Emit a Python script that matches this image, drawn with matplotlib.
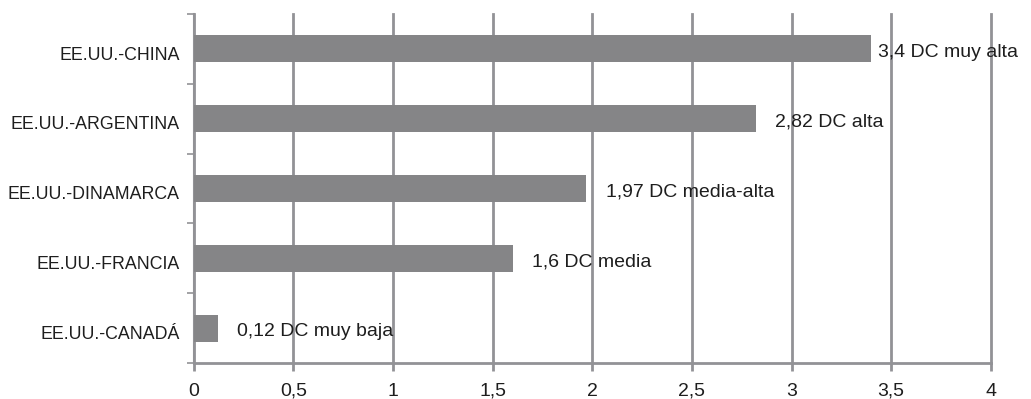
import matplotlib.pyplot as plt
import matplotlib.transforms as mtransforms
import numpy as np

# Datos
paises = ["EE.UU.-CHINA", "EE.UU.-ARGENTINA", "EE.UU.-DINAMARCA",
          "EE.UU.-FRANCIA", "EE.UU.-CANADÁ"]
valores = [3.4, 2.82, 1.97, 1.6, 0.12]
etiquetas = ["3,4 DC muy alta", "2,82 DC alta", "1,97 DC media-alta",
             "1,6 DC media", "0,12 DC muy baja"]
x_ticks = [0, 0.5, 1, 1.5, 2, 2.5, 3, 3.5, 4]
x_labels = ["0", "0,5", "1", "1,5", "2", "2,5", "3", "3,5", "4"]

plt.rcParams["font.family"] = ["Liberation Sans", "DejaVu Sans"]

GRIS_BARRA = "#858587"
GRIS_LINEA = "#929296"
TEXTO = "#1e1e1e"

fig = plt.figure(figsize=(10.31, 3.99), dpi=100)
ax = fig.add_axes([0.188, 0.090, 0.773, 0.875])

y = np.arange(len(paises))
ax.barh(y, valores, height=0.39, color=GRIS_BARRA, zorder=3)

# Etiquetas de valor
for yi, val, txt in zip(y, valores, etiquetas):
    pad = 5 if val > 3.3 else 14
    ax.annotate(txt, (val, yi), xytext=(pad, -2.5), textcoords="offset points",
                va="center", ha="left", fontsize=14, color=TEXTO, zorder=4)

ax.set_xlim(0, 4)
ax.set_ylim(len(paises) - 0.5, -0.5)

ax.set_xticks(x_ticks)
ax.set_xticklabels(x_labels, fontsize=14, color=TEXTO)
ax.set_yticks(y)
ax.set_yticklabels(paises, fontsize=12.8, color=TEXTO)
ax.tick_params(axis="y", which="major", length=0, pad=10)
ax.set_yticks(np.arange(-0.5, len(paises)), minor=True)
ax.tick_params(axis="y", which="minor", length=5, width=1.2, color=GRIS_LINEA,
               direction="out")
ax.tick_params(axis="x", length=6, width=2, color=GRIS_LINEA, pad=8)

# bajar un poco las etiquetas de categoría
bajar = mtransforms.ScaledTranslation(0, -3 / 72, fig.dpi_scale_trans)
for lbl in ax.get_yticklabels():
    lbl.set_transform(lbl.get_transform() + bajar)

ax.grid(axis="x", color=GRIS_LINEA, linewidth=2, zorder=1)
for gl in ax.get_xgridlines():
    gl.set_clip_on(False)
ax.set_axisbelow(True)

for s in ["top", "right"]:
    ax.spines[s].set_visible(False)
ax.spines["bottom"].set_color(GRIS_LINEA)
ax.spines["bottom"].set_linewidth(2)
ax.spines["left"].set_color(GRIS_LINEA)
ax.spines["left"].set_linewidth(1.5)

fig.savefig("out.png", dpi=100)
